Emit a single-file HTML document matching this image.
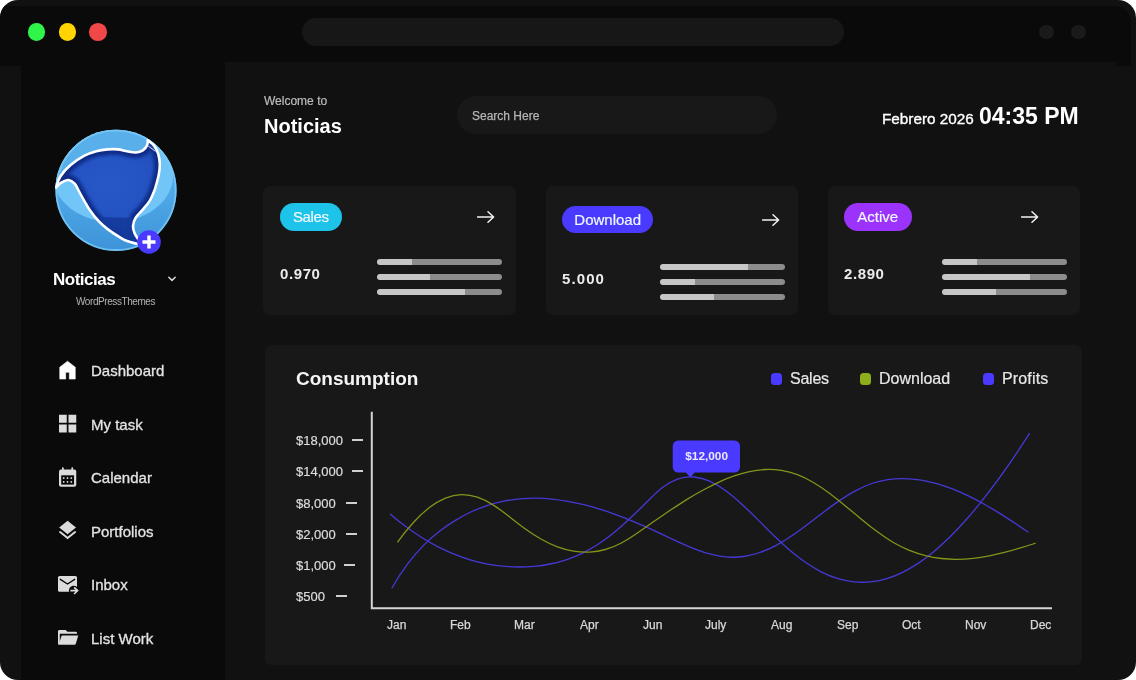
<!DOCTYPE html>
<html lang="en">
<head>
<meta charset="utf-8">
<title>Noticias Dashboard</title>
<style>
*{box-sizing:border-box;margin:0;padding:0}
html,body{width:1136px;height:680px;background:#fff;overflow:hidden}
body{font-family:"Liberation Sans",sans-serif;color:#fff;position:relative}
.abs{position:absolute}
#frame{position:absolute;left:0;top:0;width:1136px;height:680px;background:#111111;border-radius:18px;overflow:hidden}
#titlebar{left:0;top:6px;width:1131px;height:60px;background:#0a0a0a;border-top-right-radius:16px}
#sidebar{left:21px;top:62px;width:204px;height:618px;background:#0a0a0a}
#main{left:225px;top:62px;width:891px;height:618px;background:#111111}
.dot{position:absolute;border-radius:50%}
#urlbar{left:302px;top:18px;width:542px;height:28px;border-radius:14px;background:#171717}
.txt{position:absolute;white-space:nowrap;line-height:1}
.txt,.nav,.badge,.val,.yl,.xl,.lg{will-change:transform}
/* sidebar */
.nav{position:absolute;left:90.6px;font-size:15px;color:#e4e4e4;margin-top:0px;-webkit-text-stroke:0.3px #e4e4e4;white-space:nowrap;line-height:1}
.ico{position:absolute;left:57px;width:22px;height:22px}
/* cards */
.card{position:absolute;top:186px;width:252px;height:129px;background:#181818;border-radius:7px}
.badge{position:absolute;border-radius:14px;color:#f0f8ff;font-size:15px;padding-top:0.4px;-webkit-text-stroke:0.2px #f0f8ff;text-align:center;white-space:nowrap}
.val{position:absolute;font-size:15px;font-weight:bold;letter-spacing:0.6px;color:#ececec;line-height:1;white-space:nowrap}
.bar{position:absolute;height:6px;width:125px;border-radius:3px;background:#8c8c8c;overflow:hidden}
.bar i{display:block;height:6px;background:#c6c6c6;border-radius:3px 0 0 3px}
.arrow{position:absolute;width:18px;height:12px}
/* chart */
#panel{left:265.3px;top:345px;width:816.7px;height:319.7px;background:#181818;border-radius:6px}
.yl{position:absolute;left:296px;font-size:13px;color:#dcdcdc;-webkit-text-stroke:0.2px #dcdcdc;line-height:1;white-space:nowrap}
.tick{position:absolute;height:2px;width:11px;margin-left:-0.6px;background:#cfcfcf}
.xl{position:absolute;top:618.7px;font-size:12px;color:#d8d8d8;-webkit-text-stroke:0.25px #d8d8d8;line-height:1;white-space:nowrap}
.lg{position:absolute;top:370.7px;font-size:16px;color:#e8e8e8;-webkit-text-stroke:0.2px #e8e8e8;line-height:1;white-space:nowrap}
.lgd{position:absolute;top:372.8px;width:11.4px;height:11.8px;border-radius:3.5px}
</style>
</head>
<body>
<div id="frame">
  <div id="titlebar" class="abs"></div>
  <div id="sidebar" class="abs"></div>
  <div id="main" class="abs"></div>

  <!-- title bar -->
  <div class="dot" style="left:27.6px;top:23.1px;width:17.6px;height:17.6px;background:#2ff548"></div>
  <div class="dot" style="left:58.6px;top:23.1px;width:17.6px;height:17.6px;background:#ffd400"></div>
  <div class="dot" style="left:89.2px;top:23.1px;width:17.6px;height:17.6px;background:#f04848"></div>
  <div id="urlbar" class="abs"></div>
  <div class="dot" style="left:1039.3px;top:24.7px;width:14.4px;height:14.4px;background:#1a1a1a"></div>
  <div class="dot" style="left:1071.4px;top:24.7px;width:14.4px;height:14.4px;background:#1a1a1a"></div>

  <!-- SIDEBAR -->
  <svg id="logo" class="abs" style="left:0;top:0" width="260" height="270" viewBox="0 0 260 270">
    <defs>
      <linearGradient id="lg1" x1="0" y1="0" x2="0" y2="1"><stop offset="0" stop-color="#5cb3ee"/><stop offset="0.55" stop-color="#4ea7e6"/><stop offset="1" stop-color="#3d93d8"/></linearGradient>
      <radialGradient id="lg2" cx="0.5" cy="0.42" r="0.6"><stop offset="0" stop-color="#2857c8"/><stop offset="0.75" stop-color="#2351c0"/><stop offset="1" stop-color="#183a9e"/></radialGradient>
      <filter id="bl" x="-20%" y="-20%" width="140%" height="140%"><feGaussianBlur stdDeviation="1.6"/></filter>
      <clipPath id="cc"><circle cx="116" cy="190.3" r="60.6"/></clipPath>
      <clipPath id="ct"><path d="M56.2 187.5C56.9 185.7 57.9 180.2 60.3 176.5C62.7 172.8 66.6 168.5 70.6 165.1C74.5 161.7 79.7 158.2 84.0 155.9C88.3 153.6 92.4 152.4 96.3 151.3C100.2 150.2 104.0 149.7 107.6 149.4C111.2 149.1 114.8 149.1 118.0 149.4C121.2 149.7 124.0 150.8 127.0 151.3C130.0 151.8 133.4 152.7 136.0 152.5C138.6 152.3 141.0 151.6 142.8 150.4C144.6 149.2 146.1 147.3 146.9 145.6C147.8 143.9 147.7 141.3 147.9 140.4C148.9 141.3 152.4 143.4 154.1 145.6C155.8 147.8 157.2 150.7 158.2 153.8C159.1 156.9 159.7 160.7 159.8 164.1C159.9 167.5 159.4 171.0 158.8 174.4C158.2 177.8 156.9 182.1 156.2 184.7C155.5 187.3 155.6 187.4 154.6 190.0C153.6 192.6 152.0 197.0 150.0 200.3C148.0 203.6 145.2 206.7 142.8 209.6C140.4 212.5 137.2 215.1 135.6 217.8C134.0 220.5 133.2 223.4 133.0 226.0C132.8 228.6 133.7 230.9 134.6 233.2C135.5 235.4 137.8 238.4 138.5 239.5L139.0 244.3C137.0 243.8 130.2 242.2 127.0 241.0C123.8 239.8 123.2 239.4 120.0 237.4C116.8 235.4 111.2 231.8 107.6 229.1C104.0 226.3 101.3 224.0 98.4 220.9C95.5 217.8 92.5 214.0 90.1 210.6C87.7 207.2 86.0 203.7 84.0 200.3C82.0 196.9 79.8 192.8 78.3 190.0C76.8 187.2 76.3 185.4 74.7 183.7C73.1 182.0 70.7 180.2 68.5 180.0C66.3 179.8 63.1 181.6 61.3 182.6C59.5 183.6 58.1 185.4 57.5 186.0Z"/></clipPath>
    </defs>
    <circle cx="116" cy="190.3" r="60.6" fill="url(#lg1)"/>
    <g clip-path="url(#cc)">
      <!-- glossy lighter band -->
      <ellipse cx="113" cy="176" rx="60" ry="46" fill="#72c5f7"/>
      <ellipse cx="116" cy="170" rx="68" ry="30" fill="#58afeb" opacity="0"/>
    </g>
    <!-- top cap region (between circle top and T curve) -->
    <g clip-path="url(#cc)">
      <path d="M50 190C50 150 80 125 116 125C150 125 165 140 150 141C146 150 140 153 134 152.5C120 148 100 149 84 156C70 164 60 176 56 188Z" fill="#58afea"/>
    </g>
    <circle cx="116" cy="190.3" r="59.7" fill="none" stroke="#7ccbf8" stroke-width="1.8" opacity="0.8"/>
    <path d="M56.2 187.5C56.9 185.7 57.9 180.2 60.3 176.5C62.7 172.8 66.6 168.5 70.6 165.1C74.5 161.7 79.7 158.2 84.0 155.9C88.3 153.6 92.4 152.4 96.3 151.3C100.2 150.2 104.0 149.7 107.6 149.4C111.2 149.1 114.8 149.1 118.0 149.4C121.2 149.7 124.0 150.8 127.0 151.3C130.0 151.8 133.4 152.7 136.0 152.5C138.6 152.3 141.0 151.6 142.8 150.4C144.6 149.2 146.1 147.3 146.9 145.6C147.8 143.9 147.7 141.3 147.9 140.4C148.9 141.3 152.4 143.4 154.1 145.6C155.8 147.8 157.2 150.7 158.2 153.8C159.1 156.9 159.7 160.7 159.8 164.1C159.9 167.5 159.4 171.0 158.8 174.4C158.2 177.8 156.9 182.1 156.2 184.7C155.5 187.3 155.6 187.4 154.6 190.0C153.6 192.6 152.0 197.0 150.0 200.3C148.0 203.6 145.2 206.7 142.8 209.6C140.4 212.5 137.2 215.1 135.6 217.8C134.0 220.5 133.2 223.4 133.0 226.0C132.8 228.6 133.7 230.9 134.6 233.2C135.5 235.4 137.8 238.4 138.5 239.5L139.0 244.3C137.0 243.8 130.2 242.2 127.0 241.0C123.8 239.8 123.2 239.4 120.0 237.4C116.8 235.4 111.2 231.8 107.6 229.1C104.0 226.3 101.3 224.0 98.4 220.9C95.5 217.8 92.5 214.0 90.1 210.6C87.7 207.2 86.0 203.7 84.0 200.3C82.0 196.9 79.8 192.8 78.3 190.0C76.8 187.2 76.3 185.4 74.7 183.7C73.1 182.0 70.7 180.2 68.5 180.0C66.3 179.8 63.1 181.6 61.3 182.6C59.5 183.6 58.1 185.4 57.5 186.0Z" fill="url(#lg2)"/>
    <g clip-path="url(#ct)">
      <path d="M56.2 187.5C56.9 185.7 57.9 180.2 60.3 176.5C62.7 172.8 66.6 168.5 70.6 165.1C74.5 161.7 79.7 158.2 84.0 155.9C88.3 153.6 92.4 152.4 96.3 151.3C100.2 150.2 104.0 149.7 107.6 149.4C111.2 149.1 114.8 149.1 118.0 149.4C121.2 149.7 124.0 150.8 127.0 151.3C130.0 151.8 133.4 152.7 136.0 152.5C138.6 152.3 141.0 151.6 142.8 150.4C144.6 149.2 146.1 147.3 146.9 145.6C147.8 143.9 147.7 141.3 147.9 140.4C148.9 141.3 152.4 143.4 154.1 145.6C155.8 147.8 157.2 150.7 158.2 153.8C159.1 156.9 159.7 160.7 159.8 164.1C159.9 167.5 159.4 171.0 158.8 174.4C158.2 177.8 156.9 182.1 156.2 184.7C155.5 187.3 155.6 187.4 154.6 190.0C153.6 192.6 152.0 197.0 150.0 200.3C148.0 203.6 145.2 206.7 142.8 209.6C140.4 212.5 137.2 215.1 135.6 217.8C134.0 220.5 133.2 223.4 133.0 226.0C132.8 228.6 133.7 230.9 134.6 233.2C135.5 235.4 137.8 238.4 138.5 239.5L139.0 244.3C137.0 243.8 130.2 242.2 127.0 241.0C123.8 239.8 123.2 239.4 120.0 237.4C116.8 235.4 111.2 231.8 107.6 229.1C104.0 226.3 101.3 224.0 98.4 220.9C95.5 217.8 92.5 214.0 90.1 210.6C87.7 207.2 86.0 203.7 84.0 200.3C82.0 196.9 79.8 192.8 78.3 190.0C76.8 187.2 76.3 185.4 74.7 183.7C73.1 182.0 70.7 180.2 68.5 180.0C66.3 179.8 63.1 181.6 61.3 182.6C59.5 183.6 58.1 185.4 57.5 186.0Z" fill="none" stroke="#102a84" stroke-width="11" opacity="0.95" filter="url(#bl)"/>
      <path d="M60 222C90 216 125 216 150 221L150 250L60 250Z" fill="#153a9c" opacity="0.9"/>
      <path d="M147.9 140.4L160 140L160 152L154.6 150.8L148.4 145.8Z" fill="#1d429f"/>
    </g>
    <path d="M148.3 146.2L155.6 151.4" stroke="#e8f1ff" stroke-width="0.9" fill="none"/>
    <path d="M56.2 187.5C56.9 185.7 57.9 180.2 60.3 176.5C62.7 172.8 66.6 168.5 70.6 165.1C74.5 161.7 79.7 158.2 84.0 155.9C88.3 153.6 92.4 152.4 96.3 151.3C100.2 150.2 104.0 149.7 107.6 149.4C111.2 149.1 114.8 149.1 118.0 149.4C121.2 149.7 124.0 150.8 127.0 151.3C130.0 151.8 133.4 152.7 136.0 152.5C138.6 152.3 141.0 151.6 142.8 150.4C144.6 149.2 146.1 147.3 146.9 145.6C147.8 143.9 147.7 141.3 147.9 140.4" fill="none" stroke="#fff" stroke-width="2.6" stroke-linecap="round"/>
    <path d="M147.9 140.4C148.9 141.3 152.4 143.4 154.1 145.6C155.8 147.8 157.2 150.7 158.2 153.8C159.1 156.9 159.7 160.7 159.8 164.1C159.9 167.5 159.4 171.0 158.8 174.4C158.2 177.8 156.9 182.1 156.2 184.7C155.5 187.3 155.6 187.4 154.6 190.0C153.6 192.6 152.0 197.0 150.0 200.3C148.0 203.6 145.2 206.7 142.8 209.6C140.4 212.5 137.2 215.1 135.6 217.8C134.0 220.5 133.2 223.4 133.0 226.0C132.8 228.6 133.7 230.9 134.6 233.2C135.5 235.4 137.8 238.4 138.5 239.5" fill="none" stroke="#fff" stroke-width="2.6" stroke-linecap="round"/>
    <path d="M57.5 186.0C58.1 185.4 59.5 183.6 61.3 182.6C63.1 181.6 66.3 179.8 68.5 180.0C70.7 180.2 73.1 182.0 74.7 183.7C76.3 185.4 76.8 187.2 78.3 190.0C79.8 192.8 82.0 196.9 84.0 200.3C86.0 203.7 87.7 207.2 90.1 210.6C92.5 214.0 95.5 217.8 98.4 220.9C101.3 224.0 104.0 226.3 107.6 229.1C111.2 231.8 116.8 235.4 120.0 237.4C123.2 239.4 123.8 239.8 127.0 241.0C130.2 242.2 137.0 243.8 139.0 244.3" fill="none" stroke="#fff" stroke-width="2.6" stroke-linecap="round"/>
    <circle cx="149" cy="242" r="11.8" fill="#4a3aff"/>
    <path d="M142.5 242H155.5M149 235.5V248.5" stroke="#fff" stroke-width="3.4" fill="none"/>
  </svg>
  <svg class="abs" style="left:166.7px;top:275px" width="10" height="8" viewBox="0 0 10 8"><path d="M1.8 2.2L5 5.4L8.2 2.2" fill="none" stroke="#d8d8d8" stroke-width="1.5" stroke-linecap="round" stroke-linejoin="round"/></svg>
  <div class="txt" style="left:52.6px;top:270.7px;font-size:17px;font-weight:bold;letter-spacing:-0.5px;color:#fff">Noticias</div>
  <div class="txt" style="left:76.2px;top:296.8px;font-size:10px;letter-spacing:-0.42px;color:#b4b4b4">WordPressThemes</div>

  <svg class="abs" style="left:0;top:340px" width="100" height="340" viewBox="0 340 100 340">
    <!-- home -->
    <path d="M59.75 367.2L67.5 361.2L75.25 367.2V379H69.3V372.3H65.7V379H59.75Z" fill="#fff" stroke="#fff" stroke-width="0.6" stroke-linejoin="round"/>
    <!-- grid -->
    <g fill="#dcdcdc"><rect x="59" y="414.75" width="7.75" height="8"/><rect x="68.5" y="414.75" width="7.75" height="8"/><rect x="59" y="424.5" width="7.75" height="8"/><rect x="68.5" y="424.5" width="7.75" height="8"/></g>
    <!-- calendar -->
    <g>
      <rect x="59" y="469.5" width="17.25" height="17.25" rx="2" fill="#dcdcdc"/>
      <rect x="62" y="467.3" width="1.7" height="4" rx="0.6" fill="#dcdcdc"/><rect x="71.4" y="467.3" width="1.7" height="4" rx="0.6" fill="#dcdcdc"/>
      <rect x="61.2" y="475.3" width="12.85" height="9.3" fill="#0a0a0a"/>
      <g fill="#dcdcdc"><rect x="62.9" y="477.2" width="1.6" height="1.7" rx="0.4"/><rect x="66.7" y="477.2" width="1.6" height="1.7" rx="0.4"/><rect x="70.5" y="477.2" width="1.6" height="1.7" rx="0.4"/><rect x="62.9" y="481" width="1.6" height="1.7" rx="0.4"/><rect x="66.7" y="481" width="1.6" height="1.7" rx="0.4"/><rect x="70.5" y="481" width="1.6" height="1.7" rx="0.4"/></g>
    </g>
    <!-- layers -->
    <path d="M67.6 520.7L76 527.6L67.6 534.3L59.2 527.6Z" fill="#dcdcdc"/>
    <path d="M59.2 531.2L60.7 531.2L67.6 536.8L74.5 531.2L76 531.2L76 532.4L67.6 539.2L59.2 532.4Z" fill="#dcdcdc"/>
    <!-- inbox -->
    <g>
      <rect x="58" y="576" width="19" height="15.75" rx="1.6" fill="#dcdcdc"/>
      <path d="M60.3 579.3L67.5 584L74.7 579.3" fill="none" stroke="#0a0a0a" stroke-width="1.4" stroke-linecap="round" stroke-linejoin="round"/>
      <circle cx="73.8" cy="590.6" r="4.9" fill="#0a0a0a"/>
      <path d="M70.4 590.6H76.6M74.1 587.3L77.6 590.6L74.1 594" fill="none" stroke="#dcdcdc" stroke-width="1.7" stroke-linejoin="miter"/>
    </g>
    <!-- folder open -->
    <g fill="#dcdcdc">
      <path d="M58 631.4Q58 630 59.4 630H65.6L67.4 631.8H75.8Q77 631.8 77 633V633.8H59.8V643L58.6 644.8Q58 644.4 58 643.4Z"/>
      <path d="M62.3 635.5H78.3L75.7 644Q75.4 644.8 74.6 644.8H58.6L61.5 636.1Q61.7 635.5 62.3 635.5Z"/>
    </g>
  </svg>
  <div class="nav" style="top:363px">Dashboard</div>
  <div class="nav" style="top:417px">My task</div>
  <div class="nav" style="top:470px">Calendar</div>
  <div class="nav" style="top:524px">Portfolios</div>
  <div class="nav" style="top:577px">Inbox</div>
  <div class="nav" style="top:631px">List Work</div>

  <!-- HEADER -->
  <div class="txt" style="left:264px;top:95.3px;font-size:12px;color:#bdbdbd;-webkit-text-stroke:0.2px #bdbdbd">Welcome to</div>
  <div class="txt" style="left:264px;top:116px;font-size:20px;font-weight:bold;color:#fff">Noticias</div>
  <div class="abs" style="left:457px;top:96px;width:320px;height:38px;border-radius:19px;background:#181818"></div>
  <div class="txt" style="left:472px;top:109.6px;font-size:12px;color:#b5b5b5;-webkit-text-stroke:0.25px #b5b5b5">Search Here</div>
  <div class="txt" style="left:882px;top:111px;font-size:15.3px;color:#fff;-webkit-text-stroke:0.35px #fff">Febrero 2026</div>
  <div class="txt" style="left:979px;top:105px;font-size:23px;font-weight:bold;color:#fff">04:35 PM</div>

  <!-- CARDS -->
  <div class="card" style="left:263px;width:252.8px"></div>
  <div class="card" style="left:546px"></div>
  <div class="card" style="left:827.8px;width:252.2px"></div>

  <div class="badge" style="left:279.5px;top:203px;width:61.5px;height:27.5px;line-height:27.5px;background:#1dc3e9;letter-spacing:-0.4px">Sales</div>
  <svg class="arrow" style="left:477px;top:211px" viewBox="0 0 18 12"><path d="M0.5 6H16.5M11 0.8L16.6 6L11 11.2" fill="none" stroke="#f2f2f2" stroke-width="1.5" stroke-linecap="round" stroke-linejoin="round"/></svg>
  <div class="val" style="left:280px;top:265.5px">0.970</div>
  <div class="bar" style="left:377px;top:259px"><i style="width:35px"></i></div>
  <div class="bar" style="left:377px;top:274px"><i style="width:53px"></i></div>
  <div class="bar" style="left:377px;top:289px"><i style="width:87.5px"></i></div>

  <div class="badge" style="left:561.6px;top:205.6px;width:91.4px;height:27.4px;line-height:27.4px;background:#4a3aff">Download</div>
  <svg class="arrow" style="left:762px;top:213.5px" viewBox="0 0 18 12"><path d="M0.5 6H16.5M11 0.8L16.6 6L11 11.2" fill="none" stroke="#f2f2f2" stroke-width="1.5" stroke-linecap="round" stroke-linejoin="round"/></svg>
  <div class="val" style="left:561.6px;top:270.5px;letter-spacing:1.1px">5.000</div>
  <div class="bar" style="left:660px;top:263.5px"><i style="width:87.5px"></i></div>
  <div class="bar" style="left:660px;top:278.5px"><i style="width:35px"></i></div>
  <div class="bar" style="left:660px;top:294px"><i style="width:53.5px"></i></div>

  <div class="badge" style="left:843.5px;top:203px;width:67.5px;height:27.5px;line-height:27.5px;background:#9b33fc;letter-spacing:0px">Active</div>
  <svg class="arrow" style="left:1021px;top:211px" viewBox="0 0 18 12"><path d="M0.5 6H16.5M11 0.8L16.6 6L11 11.2" fill="none" stroke="#f2f2f2" stroke-width="1.5" stroke-linecap="round" stroke-linejoin="round"/></svg>
  <div class="val" style="left:843.8px;top:265.5px">2.890</div>
  <div class="bar" style="left:942px;top:259px"><i style="width:35px"></i></div>
  <div class="bar" style="left:942px;top:274px"><i style="width:87.5px"></i></div>
  <div class="bar" style="left:942px;top:289px"><i style="width:53.5px"></i></div>

  <!-- CHART -->
  <div id="panel" class="abs"></div>
  <div class="txt" style="left:295.6px;top:368.8px;font-size:19px;font-weight:bold;color:#f4f4f4">Consumption</div>
  <div class="lgd" style="left:770.5px;background:#4a3aff"></div><div class="lg" style="left:789.5px;letter-spacing:-0.25px">Sales</div>
  <div class="lgd" style="left:860px;background:#8fae1b"></div><div class="lg" style="left:879px">Download</div>
  <div class="lgd" style="left:982.5px;background:#4a3aff"></div><div class="lg" style="left:1001.5px;letter-spacing:0.15px">Profits</div>
  <div class="yl" style="top:433.5px">$18,000</div><div class="tick" style="left:352.4px;top:438.6px"></div>
  <div class="yl" style="top:465.1px">$14,000</div><div class="tick" style="left:352.4px;top:470.2px"></div>
  <div class="yl" style="top:496.5px">$8,000</div><div class="tick" style="left:346.4px;top:501.6px"></div>
  <div class="yl" style="top:527.8px">$2,000</div><div class="tick" style="left:346.4px;top:532.9px"></div>
  <div class="yl" style="top:558.9px">$1,000</div><div class="tick" style="left:344.3px;top:564.0px"></div>
  <div class="yl" style="top:590.2px">$500</div><div class="tick" style="left:336.5px;top:595.3px"></div>
  <div class="xl" style="left:387px">Jan</div>
  <div class="xl" style="left:450px">Feb</div>
  <div class="xl" style="left:514px">Mar</div>
  <div class="xl" style="left:579.5px">Apr</div>
  <div class="xl" style="left:642.5px">Jun</div>
  <div class="xl" style="left:705.3px">July</div>
  <div class="xl" style="left:771.3px">Aug</div>
  <div class="xl" style="left:836.5px">Sep</div>
  <div class="xl" style="left:901.5px">Oct</div>
  <div class="xl" style="left:964.5px">Nov</div>
  <div class="xl" style="left:1030px">Dec</div>
  <svg class="abs" style="left:0;top:0" width="1136" height="680" viewBox="0 0 1136 680">
    <path d="M371.8 411.7V608.2H1052" fill="none" stroke="#d4d4d4" stroke-width="2"/>
    <path d="M390.1 513.9C395.4 518.5 400.8 522.8 406.1 526.8C411.4 530.8 416.8 534.4 422.1 537.8C427.4 541.1 432.8 544.1 438.1 546.9C443.4 549.6 448.8 552.0 454.1 554.2C459.4 556.4 464.8 558.2 470.1 559.8C475.4 561.4 480.8 562.7 486.1 563.8C491.4 564.8 496.8 565.6 502.1 566.2C507.4 566.7 512.8 567.0 518.1 567.0C523.4 567.0 528.8 566.8 534.1 566.4C539.4 565.9 544.8 565.1 550.1 564.0C555.4 563.0 560.8 561.6 566.1 559.8C571.4 558.0 576.8 555.9 582.1 553.3C587.4 550.7 592.8 547.8 598.1 544.3C603.4 540.8 608.8 536.9 614.1 532.5C619.4 528.2 624.8 523.4 630.1 518.3C635.4 513.3 640.8 508.1 646.1 502.8C651.4 497.5 656.8 492.0 662.1 487.8C667.4 483.6 672.8 480.6 678.1 478.8C683.4 477.1 688.8 476.5 694.1 477.0C699.4 477.5 704.8 479.0 710.1 481.4C715.4 483.8 720.8 487.1 726.1 491.0C731.4 494.9 736.8 499.5 742.1 504.4C747.4 509.3 752.8 514.6 758.1 519.9C763.4 525.3 768.8 530.7 774.1 535.8C779.4 541.0 784.8 546.0 790.1 550.5C795.4 555.0 800.8 559.2 806.1 562.8C811.4 566.5 816.8 569.6 822.1 572.3C827.4 574.9 832.8 577.0 838.1 578.6C843.4 580.2 848.8 581.3 854.1 581.8C859.4 582.4 864.8 582.4 870.1 581.9C875.4 581.4 880.8 580.3 886.1 578.8C891.4 577.2 896.8 575.2 902.1 572.6C907.4 570.0 912.8 566.9 918.1 563.4C923.4 559.8 928.8 555.8 934.1 551.4C939.4 546.9 944.8 542.0 950.1 536.8C955.4 531.5 960.8 525.9 966.1 519.8C971.4 513.8 976.8 507.4 982.1 500.7C987.4 494.0 992.8 487.0 998.1 479.7C1003.4 472.4 1008.8 464.8 1014.1 456.9C1019.3 449.2 1024.5 441.3 1029.7 433.2" fill="none" stroke="#4539d6" stroke-width="1.3"/>
    <path d="M391.8 588.2C397.1 578.8 402.5 570.7 407.8 563.6C413.1 556.5 418.5 550.4 423.8 545.1C429.1 539.8 434.5 535.2 439.8 531.1C445.1 527.0 450.5 523.3 455.8 520.1C461.1 516.8 466.5 514.0 471.8 511.5C477.1 509.1 482.5 507.0 487.8 505.3C493.1 503.5 498.5 502.2 503.8 501.1C509.1 500.0 514.5 499.3 519.8 498.8C525.1 498.4 530.5 498.2 535.8 498.2C541.1 498.3 546.5 498.6 551.8 499.1C557.1 499.6 562.5 500.4 567.8 501.3C573.1 502.2 578.5 503.4 583.8 504.7C589.1 506.0 594.5 507.5 599.8 509.2C605.1 510.8 610.5 512.6 615.8 514.6C621.1 516.5 626.5 518.6 631.8 520.8C637.1 523.0 642.5 525.3 647.8 527.7C653.1 530.1 658.5 532.6 663.8 535.1C669.1 537.7 674.5 540.2 679.8 542.6C685.1 545.0 690.5 547.3 695.8 549.3C701.1 551.4 706.5 553.1 711.8 554.4C717.1 555.8 722.5 556.7 727.8 557.1C733.1 557.4 738.5 557.2 743.8 556.5C749.1 555.7 754.5 554.4 759.8 552.5C765.1 550.7 770.5 548.4 775.8 545.6C781.1 542.7 786.5 539.4 791.8 535.8C797.1 532.2 802.5 528.2 807.8 524.2C813.1 520.1 818.5 516.0 823.8 512.0C829.1 508.0 834.5 504.0 839.8 500.4C845.1 496.8 850.5 493.4 855.8 490.6C861.1 487.7 866.5 485.3 871.8 483.5C877.1 481.6 882.5 480.4 887.8 479.6C893.1 478.8 898.5 478.5 903.8 478.6C909.1 478.7 914.5 479.1 919.8 479.9C925.1 480.8 930.5 481.9 935.8 483.4C941.1 484.9 946.5 486.7 951.8 488.7C957.1 490.8 962.5 493.1 967.8 495.7C973.1 498.2 978.5 501.0 983.8 504.0C989.1 507.0 994.5 510.1 999.8 513.4C1005.1 516.8 1010.5 520.2 1015.8 523.8C1020.0 526.6 1024.1 529.4 1028.3 532.3" fill="none" stroke="#4539d6" stroke-width="1.3"/>
    <path d="M397.4 542.3C402.7 534.9 408.1 528.3 413.4 522.5C418.7 516.7 424.1 511.7 429.4 507.6C434.7 503.5 440.1 500.4 445.4 498.2C450.7 496.0 456.1 494.8 461.4 494.6C466.7 494.5 472.1 495.4 477.4 497.2C482.7 499.0 488.1 501.7 493.4 505.1C498.7 508.5 504.1 512.6 509.4 516.7C514.7 520.9 520.1 525.1 525.4 529.0C530.7 532.8 536.1 536.3 541.4 539.3C546.7 542.3 552.1 544.9 557.4 546.9C562.7 548.8 568.1 550.3 573.4 551.2C578.7 552.0 584.1 552.4 589.4 552.1C594.7 551.8 600.1 551.0 605.4 549.5C610.7 548.0 616.1 545.8 621.4 543.0C626.7 540.1 632.1 536.7 637.4 533.0C642.7 529.4 648.1 525.6 653.4 521.8C658.7 518.1 664.1 514.4 669.4 510.8C674.7 507.3 680.1 503.8 685.4 500.4C690.7 497.1 696.1 493.9 701.4 491.0C706.7 488.0 712.1 485.3 717.4 482.8C722.7 480.3 728.1 478.1 733.4 476.2C738.7 474.3 744.1 472.8 749.4 471.6C754.7 470.5 760.1 469.8 765.4 469.5C770.7 469.3 776.1 469.6 781.4 470.4C786.7 471.2 792.1 472.6 797.4 474.6C802.7 476.6 808.1 479.3 813.4 482.5C818.7 485.6 824.1 489.3 829.4 493.3C834.7 497.3 840.1 501.6 845.4 506.0C850.7 510.4 856.1 514.8 861.4 519.2C866.7 523.6 872.1 527.9 877.4 531.8C882.7 535.8 888.1 539.4 893.4 542.5C898.7 545.6 904.1 548.2 909.4 550.4C914.7 552.5 920.1 554.3 925.4 555.6C930.7 557.0 936.1 557.9 941.4 558.5C946.7 559.1 952.1 559.4 957.4 559.3C962.7 559.3 968.1 558.9 973.4 558.4C978.7 557.8 984.1 556.9 989.4 555.9C994.7 554.8 1000.1 553.6 1005.4 552.2C1010.7 550.8 1016.1 549.2 1021.4 547.6C1026.2 546.1 1031.0 544.6 1035.8 543.0" fill="none" stroke="#83941a" stroke-width="1.3"/>
    <path d="M685.5 472L690.3 477.6L695 472Z" fill="#4a3aff"/>
    <rect x="672.7" y="440.6" width="67.3" height="31.9" rx="5.5" fill="#4a3aff"/>
  </svg>
  <div class="txt" style="left:672.7px;top:451px;width:67.3px;text-align:center;font-size:11.8px;font-weight:bold;color:#ebe9ff">$12,000</div>
</div>
</body>
</html>
